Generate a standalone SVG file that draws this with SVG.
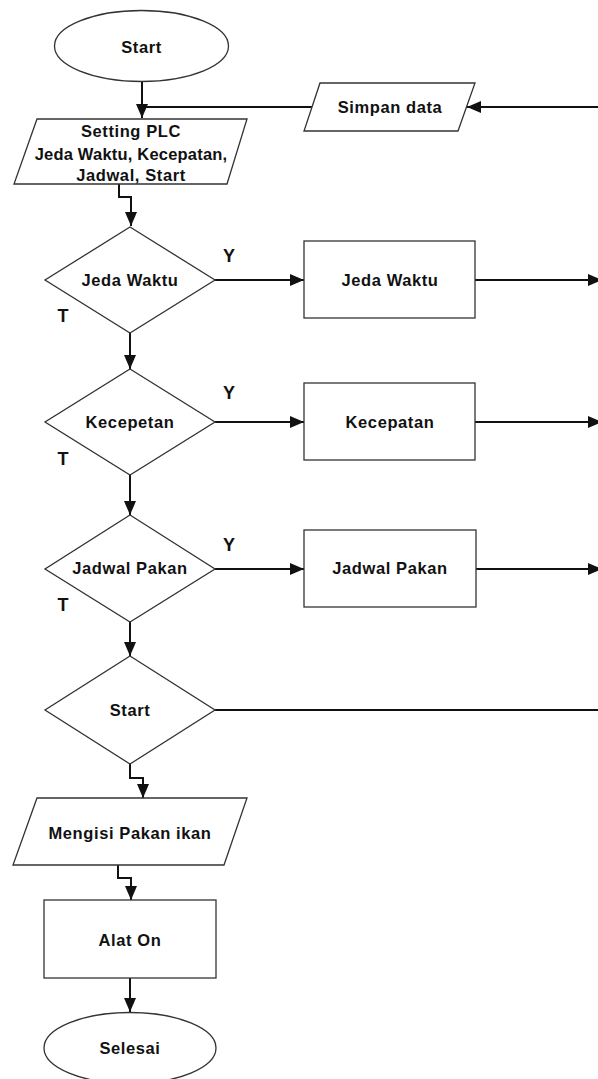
<svg xmlns="http://www.w3.org/2000/svg" width="598" height="1079" viewBox="0 0 598 1079">
<style>
.sh{fill:#fff;stroke:#333;stroke-width:1.3}
.cn{fill:none;stroke:#111;stroke-width:2}
.t{font-family:"Liberation Sans",Arial,sans-serif;font-weight:bold;font-size:16.5px;fill:#111;text-anchor:middle;dominant-baseline:central;letter-spacing:0.6px}
.yt{font-family:"Liberation Sans",Arial,sans-serif;font-weight:bold;font-size:18px;fill:#111;text-anchor:middle;dominant-baseline:central}
</style>
<defs>
<marker id="ah" markerUnits="userSpaceOnUse" markerWidth="14" markerHeight="12" refX="14" refY="6" orient="auto">
<path d="M0,0 L14,6 L0,12 z" fill="#111"/>
</marker>
</defs>
<rect width="598" height="1079" fill="#fff"/>
<g id="connectors">
<path class="cn" d="M142,82 V118" marker-end="url(#ah)"/>
<path class="cn" d="M312,107 H142"/>
<path class="cn" d="M598,107 H467" marker-end="url(#ah)"/>
<path class="cn" d="M119,184 V197 H131 V226" marker-end="url(#ah)"/>
<path class="cn" d="M215,280 H304" marker-end="url(#ah)"/>
<path class="cn" d="M475,280 H602" marker-end="url(#ah)"/>
<path class="cn" d="M130,333 V369" marker-end="url(#ah)"/>
<path class="cn" d="M215,422 H304" marker-end="url(#ah)"/>
<path class="cn" d="M475,422 H602" marker-end="url(#ah)"/>
<path class="cn" d="M130,475 V515" marker-end="url(#ah)"/>
<path class="cn" d="M215,569 H304" marker-end="url(#ah)"/>
<path class="cn" d="M476,569 H602" marker-end="url(#ah)"/>
<path class="cn" d="M130,622 V656" marker-end="url(#ah)"/>
<path class="cn" d="M215,710 H598"/>
<path class="cn" d="M130,764 V778 H143 V798" marker-end="url(#ah)"/>
<path class="cn" d="M118,865 V878 H131 V900" marker-end="url(#ah)"/>
<path class="cn" d="M130,978 V1012" marker-end="url(#ah)"/>
</g>
<g id="start">
<ellipse class="sh" cx="141.5" cy="46" rx="87" ry="35.5"/>
<text class="t" x="141.5" y="47">Start</text>
</g>
<g id="simpan">
<polygon class="sh" points="320,83 475,83 458,131 304,131"/>
<text class="t" x="390" y="107">Simpan data</text>
</g>
<g id="setting">
<polygon class="sh" points="37,119 247,119 227,184 14,184"/>
<text class="t" x="131" y="131">Setting PLC</text>
<text class="t" x="131" y="154" style="letter-spacing:0.2px">Jeda Waktu, Kecepatan,</text>
<text class="t" x="131" y="175">Jadwal, Start</text>
</g>
<g id="dec-jeda">
<polygon class="sh" points="130,227 215,280 130,333 45,280"/>
<text class="t" x="130" y="280">Jeda Waktu</text>
<text class="yt" x="229" y="256">Y</text>
<text class="yt" x="63" y="316">T</text>
</g>
<g id="box-jeda">
<rect class="sh" x="304" y="241" width="171" height="77"/>
<text class="t" x="390" y="280">Jeda Waktu</text>
</g>
<g id="dec-kecepetan">
<polygon class="sh" points="130,369 215,422 130,475 45,422"/>
<text class="t" x="130" y="422">Kecepetan</text>
<text class="yt" x="229" y="393">Y</text>
<text class="yt" x="63" y="459">T</text>
</g>
<g id="box-kecepatan">
<rect class="sh" x="304" y="383" width="171" height="77"/>
<text class="t" x="390" y="422">Kecepatan</text>
</g>
<g id="dec-jadwal">
<polygon class="sh" points="130,515 215,569 130,622 45,569"/>
<text class="t" x="130" y="568">Jadwal Pakan</text>
<text class="yt" x="229" y="545">Y</text>
<text class="yt" x="63" y="605">T</text>
</g>
<g id="box-jadwal">
<rect class="sh" x="304" y="530" width="172" height="77"/>
<text class="t" x="390" y="568">Jadwal Pakan</text>
</g>
<g id="dec-start">
<polygon class="sh" points="130,656 215,710 130,764 45,710"/>
<text class="t" x="130" y="710">Start</text>
</g>
<g id="mengisi">
<polygon class="sh" points="37,798 247,798 224,865 13,865"/>
<text class="t" x="130" y="833">Mengisi Pakan ikan</text>
</g>
<g id="alat-on">
<rect class="sh" x="44" y="900" width="172" height="78"/>
<text class="t" x="130" y="940">Alat On</text>
</g>
<g id="selesai">
<ellipse class="sh" cx="130" cy="1048" rx="86" ry="35.5"/>
<text class="t" x="130" y="1048">Selesai</text>
</g>
</svg>
